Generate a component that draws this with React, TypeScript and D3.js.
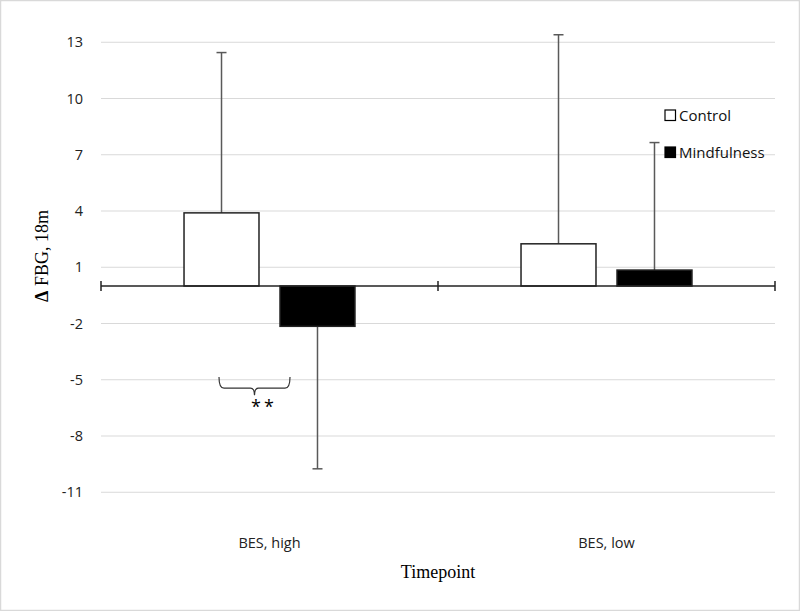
import React from "react";
import * as d3 from "d3";

const categories = ["BES, high", "BES, low"];
const series = ["Control", "Mindfulness"];
const controlValues = [3.9, 2.25];
const controlErrors = [8.55, 11.15];
const mindfulnessValues = [-2.15, 0.85];
const mindfulnessErrors = [7.6, 6.8];
const yTicks = [13, 10, 7, 4, 1, -2, -5, -8, -11];

const W = 800;
const H = 611;

export default function App() {
  const y = d3.scaleLinear().domain([-11, 13]).range([492.25, 42.25]);
  const x = d3.scaleBand<string>().domain(categories).range([101, 775]).padding(0);
  const xs = d3
    .scaleBand<string>()
    .domain(series)
    .range([0, x.bandwidth()])
    .paddingInner(0.219)
    .paddingOuter(0.865);

  const data = series.map((s, si) => ({
    name: s,
    fill: si === 0 ? "#ffffff" : "#000000",
    values: si === 0 ? controlValues : mindfulnessValues,
    errors: si === 0 ? controlErrors : mindfulnessErrors,
  }));

  const y0 = y(0);
  const sans = "'Open Sans', 'Noto Sans', sans-serif";
  const serif = "'Liberation Serif', 'DejaVu Serif', serif";

  // brace for significance under BES, high
  const bx1 = 219;
  const bx2 = 290;
  const bTop = y(-4.85);
  const bBot = y(-5.45);
  const bMid = (bx1 + bx2) / 2;
  const bracePath = `M${bx1},${bTop} Q${bx1},${bBot} ${bx1 + 5},${bBot} L${bMid - 4},${bBot} Q${bMid},${bBot} ${bMid},${bBot + 7} Q${bMid},${bBot} ${bMid + 4},${bBot} L${bx2 - 5},${bBot} Q${bx2},${bBot} ${bx2},${bTop}`;

  return (
    <svg
      width={W}
      height={H}
      style={{ position: "absolute", left: 0, top: 0, background: "#fff" }}
    >
      <rect x={0.5} y={0.5} width={W - 1} height={H - 1} fill="#fff" stroke="#d9d9d9" strokeWidth={1.5} />
      {/* gridlines */}
      {yTicks.map((t) => (
        <line key={t} x1={101} x2={775} y1={y(t)} y2={y(t)} stroke="#d9d9d9" strokeWidth={1.2} />
      ))}
      {/* tick labels */}
      {yTicks.map((t) => (
        <text
          key={"l" + t}
          x={83}
          y={y(t)}
          dy="0.35em"
          textAnchor="end"
          fontFamily={sans}
          fontSize={14.5}
          fill="#222"
        >
          {t}
        </text>
      ))}
      {/* error bars */}
      {data.map((s) =>
        categories.map((c, ci) => {
          const cx = (x(c) as number) + (xs(s.name) as number) + xs.bandwidth() / 2;
          const v = s.values[ci];
          const end = v >= 0 ? v + s.errors[ci] : v - s.errors[ci];
          return (
            <g key={s.name + c + "e"} stroke="#595959" strokeWidth={1.5}>
              <line x1={cx} x2={cx} y1={y(v)} y2={y(end)} />
              <line x1={cx - 5} x2={cx + 5} y1={y(end)} y2={y(end)} />
            </g>
          );
        })
      )}
      {/* bars */}
      {data.map((s) =>
        categories.map((c, ci) => {
          const bx = (x(c) as number) + (xs(s.name) as number);
          const v = s.values[ci];
          return (
            <rect
              key={s.name + c}
              x={bx}
              width={xs.bandwidth()}
              y={Math.min(y(v), y0)}
              height={Math.abs(y(v) - y0)}
              fill={s.fill}
              stroke="#222"
              strokeWidth={1.5}
            />
          );
        })
      )}
      {/* zero axis */}
      <line x1={101} x2={775} y1={y0} y2={y0} stroke="#222" strokeWidth={1.5} />
      {[101, 438, 775].map((tx) => (
        <line key={tx} x1={tx} x2={tx} y1={y0 - 5} y2={y0 + 5} stroke="#222" strokeWidth={1.5} />
      ))}
      {/* category labels */}
      {categories.map((c) => (
        <text
          key={c}
          x={(x(c) as number) + x.bandwidth() / 2}
          y={543}
          dy="0.35em"
          textAnchor="middle"
          fontFamily={sans}
          fontSize={14.5}
          fill="#222"
        >
          {c}
        </text>
      ))}
      {/* axis titles */}
      <text
        transform={`translate(48,256) rotate(-90)`}
        textAnchor="middle"
        fontFamily={serif}
        fontSize={18}
        fill="#000"
      >
        <tspan fontWeight="bold">Δ</tspan> FBG, 18m
      </text>
      <text x={438} y={578} textAnchor="middle" fontFamily={serif} fontSize={18} fill="#000">
        Timepoint
      </text>
      {/* legend */}
      {data.map((s, i) => (
        <g key={"lg" + s.name} transform={`translate(665,${110 + i * 37})`}>
          <rect x={0} y={0} width={10.5} height={10.5} fill={s.fill} stroke="#000" strokeWidth={1.2} />
          <text x={14} y={5.5} dy="0.35em" fontFamily={sans} fontSize={15} fill="#111">
            {s.name}
          </text>
        </g>
      ))}
      {/* significance brace */}
      <path d={bracePath} fill="none" stroke="#333" strokeWidth={1.2} />
      <text
        x={264}
        y={413}
        textAnchor="middle"
        fontFamily={sans}
        fontSize={18}
        letterSpacing={3}
        fill="#000"
      >
        **
      </text>
    </svg>
  );
}
